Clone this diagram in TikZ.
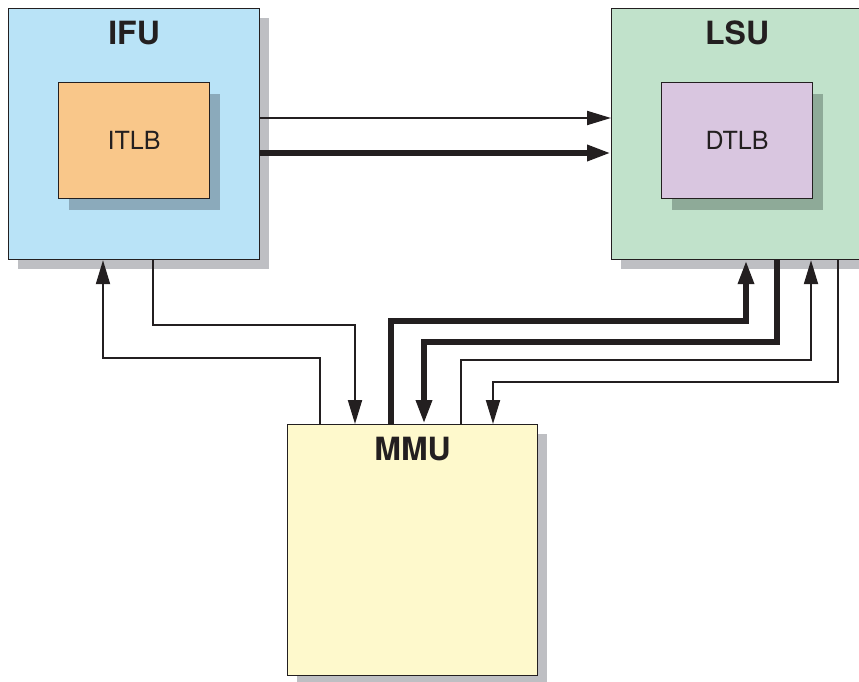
\documentclass[tikz,border=0pt]{standalone}
\usepackage{fontspec}
\setmainfont{TeX Gyre Heros}
\usetikzlibrary{arrows.meta,shadows}
\definecolor{ifublue}{RGB}{185,227,247}
\definecolor{itlborange}{RGB}{249,199,138}
\definecolor{lsugreen}{RGB}{193,226,203}
\definecolor{dtlbviolet}{RGB}{217,198,224}
\definecolor{mmuyellow}{RGB}{254,249,204}
\definecolor{boxshadow}{RGB}{190,191,195}
\definecolor{itlbshadow}{RGB}{139,170,187}
\definecolor{dtlbshadow}{RGB}{142,170,152}
\definecolor{inkdark}{RGB}{35,31,32}

\begin{document}
\begin{tikzpicture}
  [x=1pt,y=-1pt,
   unit/.style={draw=inkdark,line width=1.2pt,fill=#1,anchor=north west,
     inner sep=0pt,minimum width=251pt,minimum height=251pt,
     drop shadow={shadow xshift=9pt,shadow yshift=-9pt,fill=boxshadow,draw=none,opacity=1}},
   tlb/.style={draw=inkdark,line width=1.2pt,fill=#1,anchor=north west,
     inner sep=0pt,minimum width=151pt,minimum height=116pt,
     font=\fontsize{25}{28}\selectfont,text=inkdark},
   title/.style={anchor=center,yshift=-25pt,text=inkdark,
     font=\bfseries\fontsize{32}{36}\selectfont},
   wire/.style={draw=inkdark,line width=2pt,-{Triangle[length=24pt,width=14pt]}},
   bus/.style={draw=inkdark,line width=6.5pt,-{Triangle[length=24pt,width=15pt]}}]
  \useasboundingbox (0,0) rectangle (859,682);

  \node[unit=ifublue,label={[title]north:IFU}] (ifu) at (8,8) {};
  \node[unit=lsugreen,label={[title]north:LSU}] (lsu) at (611,8) {};
  \node[unit=mmuyellow,minimum width=250pt,label={[title]north:MMU}] (mmu) at (287,424) {};

  \node[tlb=itlborange,drop shadow={shadow xshift=10pt,shadow yshift=-11pt,fill=itlbshadow,draw=none,opacity=1}] (itlb) at (58,82) {ITLB};
  \node[tlb=dtlbviolet,drop shadow={shadow xshift=10pt,shadow yshift=-11pt,fill=dtlbshadow,draw=none,opacity=1}] (dtlb) at (661,82) {DTLB};

  \foreach \yy/\kind in {118/wire,153/bus}
    \draw[\kind] (ifu.east|-0,\yy) -- (lsu.west|-0,\yy);

  \draw[wire] (ifu.south-|153,0) |- (355,325) -- (mmu.north-|355,0);
  \draw[wire] (mmu.north-|320,0) |- (103,358) -- (ifu.south-|103,0);
  \draw[bus] (mmu.north-|391,0) |- (746,321) -- (lsu.south-|746,0);
  \draw[bus] (lsu.south-|777,0) |- (424,342) -- (mmu.north-|424,0);
  \draw[wire] (mmu.north-|461,0) |- (811,360) -- (lsu.south-|811,0);
  \draw[wire] (lsu.south-|838,0) |- (493,382) -- (mmu.north-|493,0);

\end{tikzpicture}
\end{document}
